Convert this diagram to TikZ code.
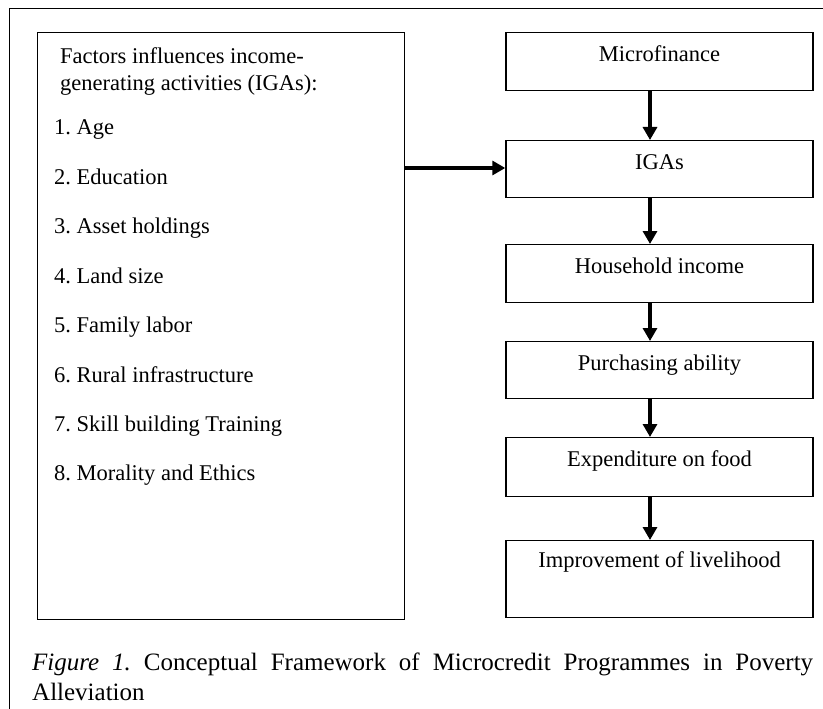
\documentclass[tikz,border=0pt]{standalone}
\usepackage{fontspec}
\setmainfont{Liberation Serif}
\usetikzlibrary{arrows.meta}
\frenchspacing

\begin{document}
\begin{tikzpicture}[x=1pt, y=-1pt,
    stagebox/.style={draw, line width=1.4pt, minimum width=307pt, inner xsep=0pt, inner ysep=0pt,
        text height=29pt, text depth=#1, anchor=north, font=\fontsize{22.5}{25}\selectfont},
    flow/.style={line width=3.2pt, -{Triangle[length=13pt, width=14pt]}},
    factortext/.style={anchor=base west, inner sep=0pt, font=\fontsize{22.5}{27}\selectfont}]
\useasboundingbox (0,0) rectangle (823,709);
% frame of the figure
\draw[line width=1pt] (9,709) -- (9,9) -- (823,9);

% factors on the left
\node[draw, line width=1.4pt, anchor=north west, minimum width=367pt, minimum height=587pt, inner sep=0pt] (factors) at (37,32) {};
\node[factortext, align=left] (head) at (60,91) {Factors influences income-\\generating activities (IGAs):};
\foreach \t [count=\i] in {Age, Education, Asset holdings, Land size, Family labor, Rural infrastructure, Skill building Training, Morality and Ethics}
    \node[factortext] (item\i) at (54,{135+49.4*(\i-1)}) {\i. \t};

% chain on the right
\node[stagebox=29pt] (micro) at (659.5,32) {Microfinance};
\node[stagebox=28pt] (igas) at (659.5,140) {IGAs};
\node[stagebox=29pt] (income) at (659.5,244) {Household income};
\node[stagebox=28pt] (purchase) at (659.5,341) {Purchasing ability};
\node[stagebox=30pt] (food) at (659.5,437) {Expenditure on food};
\node[stagebox=50pt, text height=27pt] (livelihood) at (659.5,540) {Improvement of livelihood};

\coordinate (spine) at (650,0);
\coordinate (tie) at (0,168);
\draw[flow] (micro.south -| spine) -- (igas.north -| spine);
\draw[flow] (igas.south -| spine) -- (income.north -| spine);
\draw[flow] (income.south -| spine) -- (purchase.north -| spine);
\draw[flow] (purchase.south -| spine) -- (food.north -| spine);
\draw[flow] (food.south -| spine) -- (livelihood.north -| spine);
\draw[flow] (factors.east |- tie) -- (igas.west |- tie);

% caption
\node[anchor=base west, inner sep=0pt, text width=781pt, align=justify, font=\fontsize{25}{30}\selectfont] (caption) at (32,670)
    {\textit{Figure 1.} Conceptual Framework of Microcredit Programmes in Poverty\linebreak Alleviation};
\end{tikzpicture}
\end{document}
